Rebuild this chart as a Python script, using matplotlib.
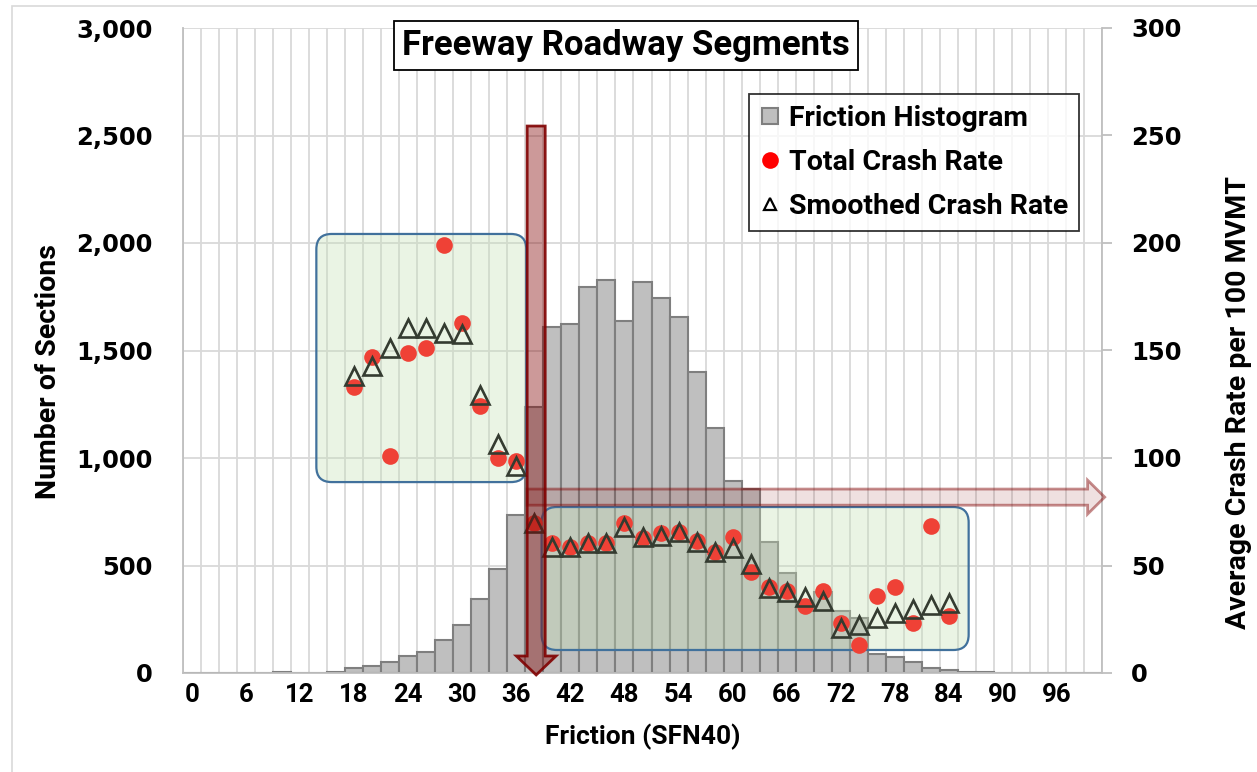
import numpy as np
import matplotlib
matplotlib.use("Agg")
import matplotlib.pyplot as plt
from matplotlib.patches import FancyArrow, FancyBboxPatch, Rectangle
from matplotlib.lines import Line2D

# Friction bins (SFN40), bin width 2
friction = np.arange(0, 101, 2)
sections = [0, 0, 0, 0, 0, 5, 0, 0, 6, 22,
            34, 50, 81, 96, 153, 223, 343, 485, 735, 1238,
            1611, 1622, 1797, 1828, 1637, 1817, 1743, 1657, 1398, 1138,
            895, 854, 608, 467, 330, 378, 290, 254, 88, 76,
            53, 22, 14, 6, 6, 0, 0, 0, 0, 0, 0]

rate_x = np.arange(18, 85, 2)
total_rate = [132.9, 147.1, 100.9, 148.7, 151.3, 199.1, 162.9, 124.3, 100.0, 98.8,
              69.9, 60.3, 58.8, 60.3, 60.6, 69.6, 62.6, 65.3, 65.7, 61.4,
              56.4, 63.1, 47.1, 40.1, 38.3, 31.2, 38.1, 23.1, 13.0, 36.0,
              39.9, 23.1, 68.4, 26.7]
smooth_rate = [138.1, 142.8, 151.3, 160.3, 160.3, 158.0, 157.5, 129.3, 106.5, 96.3,
               69.9, 58.8, 58.6, 60.3, 60.6, 68.1, 63.4, 63.7, 65.7, 61.1,
               56.4, 58.0, 50.7, 39.4, 37.8, 35.5, 33.6, 20.8, 22.3, 25.4,
               28.1, 29.6, 31.6, 32.4]

xticks = np.arange(0, 97, 6)

label_font = ["Roboto", "DejaVu Sans"]
tick_font = ["DejaVu Sans"]

fig = plt.figure(figsize=(12.57, 7.72), dpi=100)
ax = fig.add_axes([183 / 1257, 1 - 673 / 772, 919 / 1257, 645 / 772])
ax2 = ax.twinx()

# chart frame
fig.patches.append(Rectangle((12 / 1257, -0.05), 1.1, 1 - 6 / 772 + 0.05,
                             transform=fig.transFigure, fill=False,
                             edgecolor="#d9d9d9", linewidth=1.2))

ax.bar(friction, sections, width=2, color="#bfbfbf", edgecolor="#7f7f7f",
       linewidth=1.5, zorder=2)
ax.set_xlim(-1, 101)
ax.set_ylim(0, 3000)
ax.set_yticks(np.arange(0, 3001, 500))
ax.set_yticklabels([f"{v:,}" for v in range(0, 3001, 500)],
                   fontfamily=tick_font, fontweight="bold", fontsize=17.5)
ax.set_xticks(xticks)
ax.set_xticklabels([str(v) for v in xticks], fontfamily=label_font,
                   fontweight="bold", fontsize=18.5)
ax.set_xticks(np.arange(-1, 102, 2), minor=True)
ax.tick_params(axis="x", which="both", length=0, pad=7)
ax.tick_params(axis="y", length=0, pad=22)
ax.grid(axis="x", which="minor", color="#d9d9d9", linewidth=1.3)
ax.grid(axis="y", which="major", color="#d9d9d9", linewidth=1.3)
ax.set_axisbelow(True)
for s in ["top", "right"]:
    ax.spines[s].set_visible(False)
for s in ["left", "bottom"]:
    ax.spines[s].set_color("#bfbfbf")
    ax.spines[s].set_linewidth(1.3)
ax.set_xlabel("Friction (SFN40)", fontfamily=label_font, fontweight="bold",
              fontsize=19, labelpad=12)
ax.set_ylabel("Number of Sections", fontfamily=label_font, fontweight="bold",
              fontsize=20.5)
ax.yaxis.set_label_coords(-0.132, 0.468)

# highlight boxes (pixel aspect handled by mutation_aspect)
asp = (3000 / 645) / (102 / 919)
box_kw = dict(boxstyle="round,pad=0,rounding_size=1.7", mutation_aspect=asp,
              facecolor=(0.773, 0.878, 0.706, 0.35), edgecolor="#41719c",
              linewidth=1.6, zorder=3)
ax.add_patch(FancyBboxPatch((13.8, 888), 23.3, 1154, **box_kw))
ax.add_patch(FancyBboxPatch((38.8, 107), 47.4, 665, **box_kw))

ax2.set_ylim(0, 300)
ax2.set_yticks(np.arange(0, 301, 50))
ax2.set_yticklabels([str(v) for v in range(0, 301, 50)], fontfamily=tick_font,
                    fontweight="bold", fontsize=17.5)
ax2.tick_params(axis="y", length=7, color="#bfbfbf", width=1.3, pad=14)
for s in ["top", "left", "bottom"]:
    ax2.spines[s].set_visible(False)
ax2.spines["right"].set_color("#bfbfbf")
ax2.spines["right"].set_linewidth(1.3)
ax2.set_ylabel("Average Crash Rate per 100 MVMT", fontfamily=label_font,
               fontweight="bold", fontsize=20.5)
ax2.yaxis.set_label_coords(1.134, 0.42)

ax2.plot(rate_x, total_rate, linestyle="none", marker="o", markersize=12,
         markerfacecolor="#ef4136", markeredgecolor="none", zorder=4)
ax2.plot(rate_x, smooth_rate, linestyle="none", marker="^", markersize=13,
         markerfacecolor="none", markeredgecolor="#343b30",
         markeredgewidth=1.9, zorder=5)

# arrows
ax2.add_patch(FancyArrow(38.2, 254.4, 0, -255.3, width=2.0, head_width=4.4,
                         head_length=8.8, length_includes_head=True,
                         facecolor=(0.5, 0, 0, 0.4), edgecolor=(0.5, 0, 0, 0.9),
                         linewidth=2, zorder=6, clip_on=False))
ax2.add_patch(FancyArrow(37.2, 81.8, 64.1, 0, width=7.5, head_width=15.8,
                         head_length=1.9, length_includes_head=True,
                         facecolor=(0.5, 0, 0, 0.12), edgecolor=(0.5, 0, 0, 0.45),
                         linewidth=2, zorder=6, clip_on=False))

# title box
fig.text(626 / 1257, 1 - 45.5 / 772, "Freeway Roadway Segments", ha="center",
         va="center", fontfamily=label_font, fontweight="bold", fontsize=25,
         bbox=dict(boxstyle="square,pad=0.24", facecolor="white",
                   edgecolor="black", linewidth=1.3), zorder=10)

handles = [
    Line2D([], [], linestyle="none", marker="s", markersize=12,
           markerfacecolor="#bfbfbf", markeredgecolor="#7f7f7f", markeredgewidth=1.5),
    Line2D([], [], linestyle="none", marker="o", markersize=12,
           markerfacecolor="#ff0000", markeredgecolor="none"),
    Line2D([], [], linestyle="none", marker="^", markersize=8,
           markerfacecolor="none", markeredgecolor="black", markeredgewidth=1.6),
]
leg = ax2.legend(handles, ["Friction Histogram", "Total Crash Rate", "Smoothed Crash Rate"],
                 loc="upper left", bbox_to_anchor=(749 / 1257, 1 - 94 / 772),
                 bbox_transform=fig.transFigure, frameon=True, fancybox=False,
                 edgecolor="black", handlelength=0.7, handletextpad=0.35,
                 borderpad=0.37, labelspacing=0.61, borderaxespad=0,
                 prop=dict(family=label_font, weight="bold", size=20.5))
leg.get_frame().set_linewidth(1.3)
leg.set_zorder(10)

fig.savefig("out.png", dpi=100)
